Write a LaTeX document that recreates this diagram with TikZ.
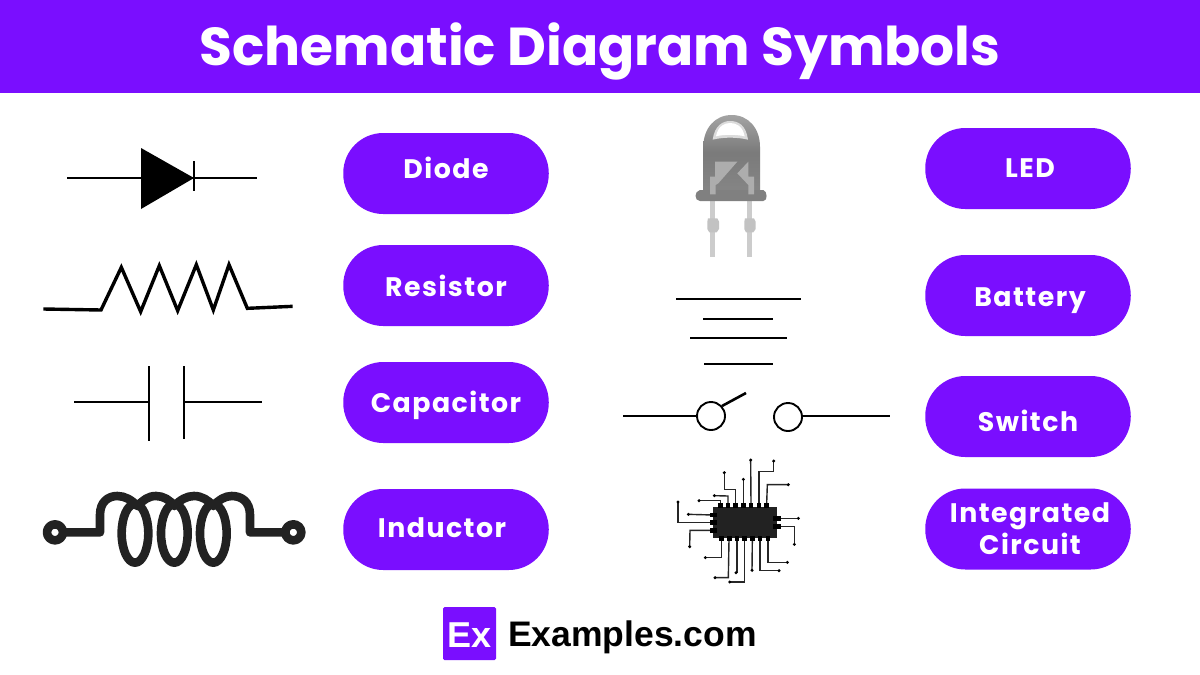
\documentclass[tikz,border=0pt]{standalone}
\usepackage{fontspec}
\newfontfamily\popfont[LetterSpace=0]{Poppins}
\newfontfamily\poplabel[LetterSpace=5.5]{Poppins}
\newfontfamily\logofont{Liberation Sans}
\definecolor{brand}{HTML}{7A0EFF}
\definecolor{ink}{HTML}{222222}
\tikzset{
  pill/.style={fill=brand,rounded corners=40pt,minimum width=205.5pt,minimum height=81pt,inner sep=0pt,draw=none},
  pilltext/.style={text=white,font=\poplabel\fontsize{26.8}{32}\selectfont\bfseries,align=center,inner sep=0pt,anchor=base},
  wire/.style={draw=black,line width=2.6pt},
  heavy/.style={draw=black,line width=2.8pt},
  zoomed/.style={x=0.33333pt,y=-0.33333pt},
  lead/.style={draw=black!85,line width=1.4pt},
  dot/.style={fill=black,draw=none},
  coil/.style={draw=ink,line width=8.6pt,line cap=round,line join=round}
}
\begin{document}
\begin{tikzpicture}[x=1pt,y=-1pt]
\useasboundingbox (0,0) rectangle (1200,675);
\fill[white] (0,0) rectangle (1200,675);
\fill[brand] (0,0) rectangle (1200,93);
\node[text=white,font=\popfont\fontsize{53.4}{60}\selectfont\bfseries,inner sep=0pt] (title) at (600,51.5) {Schematic Diagram Symbols};

% pills
\foreach \nm/\x/\y in {pa/446/173.5,pb/446/285.5,pc/446/402.5,pd/446/529.5,pe/1028/168.5,pf/1028/295.5,pg/1028/416.5,ph/1028/529}{
  \node[pill] (\nm) at (\x,\y) {};
}
\node[pilltext] (ta) at (446,178.2) {Diode};
\node[pilltext] (tb) at (446,296.2) {Resistor};
\node[pilltext] (tc) at (446,412) {Capacitor};
\node[pilltext] (td) at (442,537) {Inductor};
\node[pilltext] (te) at (1030,177) {LED};
\node[pilltext] (tf) at (1030,306) {Battery};
\node[pilltext] (tg) at (1028,431) {Switch};
\node[pilltext] (th1) at (1030,522) {Integrated};
\node[pilltext] (th2) at (1030,554) {Circuit};

% diode
\draw[line width=1.8pt] (67,178) -- (257,178);
\fill[black] (141,148) -- (194,178) -- (141,209) -- cycle;
\draw[line width=1.8pt] (194,161) -- (194,191);

% resistor
\begin{scope}[shift={(30,250)},zoomed]
\draw[line width=3.4pt,line join=miter] (40,177) -- (213,180) -- (274,52) -- (332,185) -- (388,47) -- (443,182) -- (499,44) -- (550,180) -- (597,44) -- (652,175) -- (788,169);
\end{scope}

% capacitor
\draw[wire] (74,402) -- (149,402);
\draw[heavy] (149,366) -- (149,441);
\draw[heavy] (184,366) -- (184,439);
\draw[wire] (184,402) -- (262,402);

% inductor
\begin{scope}[shift={(30,480)},zoomed]
\draw[coil] (315,160) ellipse [x radius=40,y radius=88];
\draw[coil] (433,160) ellipse [x radius=40,y radius=88];
\draw[coil] (550,160) ellipse [x radius=40,y radius=88];
\draw[coil] (100,157) -- (210,157) -- (210,105) .. controls (210,65) and (235,48) .. (262,48)
  .. controls (285,48) and (305,60) .. (322,78) .. controls (340,60) and (355,48) .. (378,48)
  .. controls (400,48) and (420,60) .. (433,78) .. controls (450,60) and (470,48) .. (492,48)
  .. controls (515,48) and (535,60) .. (550,78) .. controls (565,60) and (585,48) .. (605,48)
  .. controls (635,48) and (660,65) .. (660,105) -- (660,157) -- (760,157);
\draw[coil] (75,157) circle [x radius=24,y radius=24];
\draw[coil] (790,157) circle [x radius=24,y radius=24];
\end{scope}

% LED
\begin{scope}[shift={(680,105)},zoomed]
\fill[black!20] (90,285) rectangle (106,455);
\fill[black!20] (201,285) rectangle (217,455);
\fill[black!24] (84,340) -- (112,340) -- (117,350) -- (117,372) -- (110,382) -- (88,382) -- (82,372) -- (82,350) -- cycle;
\fill[black!24] (195,340) -- (222,340) -- (227,350) -- (227,372) -- (220,382) -- (198,382) -- (193,372) -- (193,350) -- cycle;
\shade[top color=black!36,bottom color=black!48,middle color=black!52] (70,255) -- (70,125) .. controls (70,70) and (105,30) .. (155,30) .. controls (205,30) and (240,70) .. (240,125) -- (240,255) -- cycle;
\fill[black!50] (60,255) -- (250,255) .. controls (262,258) and (264,288) .. (250,288) -- (60,288) .. controls (42,288) and (42,258) .. (60,255) -- cycle;
\fill[black!14] (98,104) .. controls (104,60) and (130,48) .. (150,48) .. controls (175,48) and (198,60) .. (204,104) .. controls (170,96) and (130,96) .. (98,104) -- cycle;
\fill[white] (108,94) .. controls (114,62) and (135,54) .. (150,54) .. controls (170,54) and (188,64) .. (194,94) .. controls (170,88) and (130,88) .. (108,94) -- cycle;
\fill[black!32] (90,268) -- (90,215) -- (105,215) -- (105,170) -- (172,170) -- (115,235) -- (107,240) -- (107,268) -- cycle;
\fill[black!32] (205,170) -- (172,205) -- (205,240) -- (205,268) -- (222,268) -- (222,215) -- (205,215) -- cycle;
\end{scope}

% battery
\draw[wire] (676,299) -- (801,299);
\draw[wire] (703,319) -- (773,319);
\draw[wire] (690,338) -- (787,338);
\draw[wire] (704,364) -- (773,364);

% switch
\draw[wire] (623,416) -- (697,416);
\draw[line width=1.9pt] (711,416) circle [radius=14];
\draw[wire] (722,406) -- (746,393);
\draw[line width=1.9pt] (788,417) circle [radius=14];
\draw[wire] (802,416) -- (890,416);

% integrated circuit
\begin{scope}[shift={(660,450)},zoomed]
\draw[lead] (181,160) -- (181,152) -- (117,152);
\draw[lead] (204,160) -- (204,138) -- (163,137);
\draw[lead] (227,160) -- (227,118) -- (193,118) -- (193,68);
\draw[lead] (250,160) -- (250,88);
\draw[lead] (273,160) -- (272,30);
\draw[lead] (297,160) -- (297,65) -- (341,65) -- (341,33);
\draw[lead] (320,160) -- (322,104) -- (385,104);
\draw[lead] (160,195) -- (85,193);
\draw[lead] (160,218) -- (54,218) -- (54,156);
\draw[lead] (160,241) -- (90,241) -- (89,290);
\draw[lead] (352,205) -- (415,205);
\draw[lead] (352,229) -- (403,229) -- (403,283);
\draw[lead] (184,270) -- (184,323) -- (136,323);
\draw[lead] (207,270) -- (205,383) -- (165,383);
\draw[lead] (231,270) -- (231,368) -- (228,368);
\draw[lead] (254,270) -- (254,396) -- (209,396);
\draw[lead] (277,270) -- (276,361);
\draw[lead] (300,270) -- (300,362) -- (357,362);
\draw[lead] (324,270) -- (324,337) -- (382,337);
\foreach \a/\b in {117/152,163/137,193/68,250/88,272/30,341/33,385/104,85/193,54/156,89/290,415/205,403/283,136/323,165/383,228/368,209/396,276/361,357/362,382/337}{
  \fill[dot] (\a,\b) circle [radius=5];
}
\fill[ink] (160,170) rectangle (352,263);
\foreach \a in {181,204,227,250,273,297,320}{\fill[black] (\a-7,158) rectangle (\a+7,174);}
\foreach \a in {184,208,231,254,277,300,324}{\fill[black] (\a-7,259) rectangle (\a+7,274);}
\foreach \b in {195,218,241}{\fill[black] (150,\b-7) rectangle (172,\b+7);}
\foreach \b in {205,229}{\fill[black] (340,\b-7) rectangle (362,\b+7);}
\end{scope}

% logo
\node[fill=brand,rounded corners=1.5pt,minimum size=53pt,inner sep=0pt] (logo) at (469.5,633.5) {};
\node[text=white,font=\logofont\fontsize{36}{40}\selectfont\bfseries,inner sep=0pt,anchor=base] (logotext) at (469.5,647) {Ex};
\node[text=black,font=\logofont\fontsize{35.5}{40}\selectfont\bfseries,anchor=base west,inner sep=0pt] (site) at (508,646) {Examples.com};
\end{tikzpicture}
\end{document}
